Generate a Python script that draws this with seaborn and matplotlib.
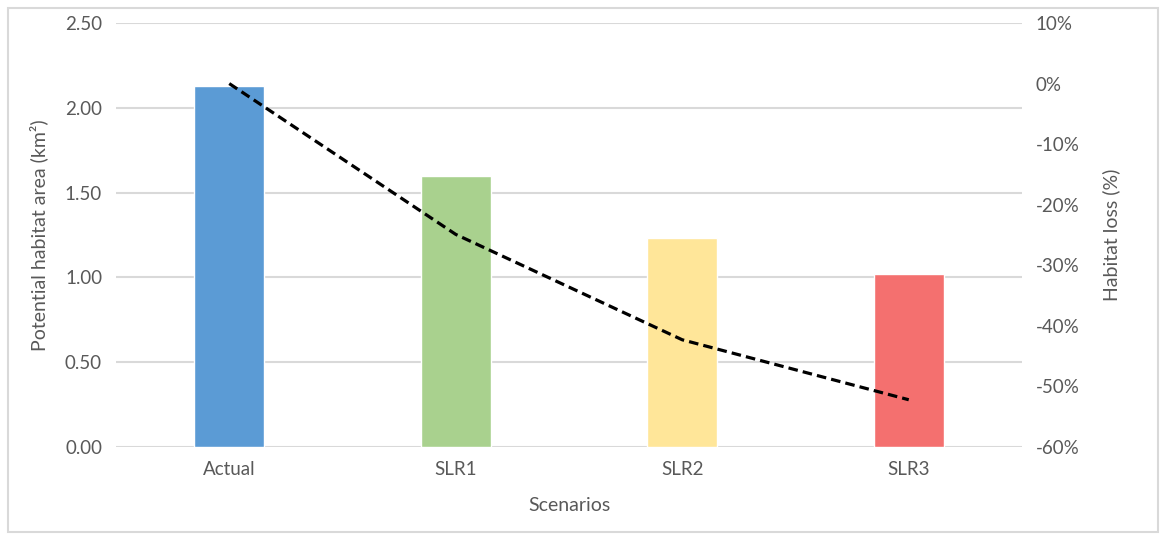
import matplotlib
matplotlib.use('Agg')
import pandas as pd
import matplotlib.pyplot as plt
import seaborn as sns
from matplotlib.patches import Rectangle
from matplotlib.ticker import FuncFormatter

# 시나리오별 서식 면적과 손실률
scenarios = ['Actual', 'SLR1', 'SLR2', 'SLR3']
area_km2 = [2.13, 1.60, 1.23, 1.02]
loss_pct = [0.0, -24.9, -42.3, -52.2]
bar_colors = ['#5B9BD5', '#A9D18E', '#FFE699', '#F4706F']

df = pd.DataFrame({'scenario': scenarios, 'area': area_km2, 'loss': loss_pct})

sns.set_style('white')
plt.rcParams['font.family'] = ['Lato', 'DejaVu Sans']
gray = '#595959'

fig = plt.figure(figsize=(11.61, 5.36), dpi=100)
ax = fig.add_axes([116 / 1161, 1 - 447 / 536, 906 / 1161, 424 / 536])

sns.barplot(data=df, x='scenario', y='area', hue='scenario', palette=bar_colors,
            width=0.31, saturation=1, legend=False, ax=ax, zorder=2)
ax.set_ylim(0, 2.5)
ax.set_yticks([0, 0.5, 1.0, 1.5, 2.0, 2.5])
ax.yaxis.set_major_formatter(FuncFormatter(lambda v, p: f'{v:.2f}'))
ax.grid(axis='y', color='#D9D9D9', lw=1.5, zorder=0)
ax.set_axisbelow(True)
for s in ax.spines.values():
    s.set_visible(False)
ax.set_xlabel('Scenarios', fontsize=14, color=gray, labelpad=14)
ax.set_ylabel('Potential habitat area (km²)', fontsize=14, color=gray, labelpad=12)
ax.tick_params(axis='both', length=0, labelsize=13.5, labelcolor=gray, pad=10)

ax2 = ax.twinx()
sns.lineplot(data=df, x='scenario', y='loss', color='black', lw=2.3,
             linestyle=(0, (3, 1.6)), ax=ax2, sort=False)
ax2.set_ylim(-60, 10)
ax2.set_yticks(range(-60, 11, 10))
ax2.yaxis.set_major_formatter(FuncFormatter(lambda v, p: f'{int(v)}%'))
for s in ax2.spines.values():
    s.set_visible(False)
ax2.set_ylabel('Habitat loss (%)', fontsize=14, color=gray, labelpad=16)
ax2.tick_params(axis='y', length=0, labelsize=13.5, labelcolor=gray, pad=10)
ax2.set_xlim(-0.5, 3.5)

# 바깥 테두리
fig.patches.append(Rectangle((8 / 1161, 4 / 536), 1150 / 1161, 524 / 536,
                             transform=fig.transFigure, fill=False,
                             edgecolor='#D9D9D9', lw=1.5))

fig.savefig('out.png', dpi=100)
